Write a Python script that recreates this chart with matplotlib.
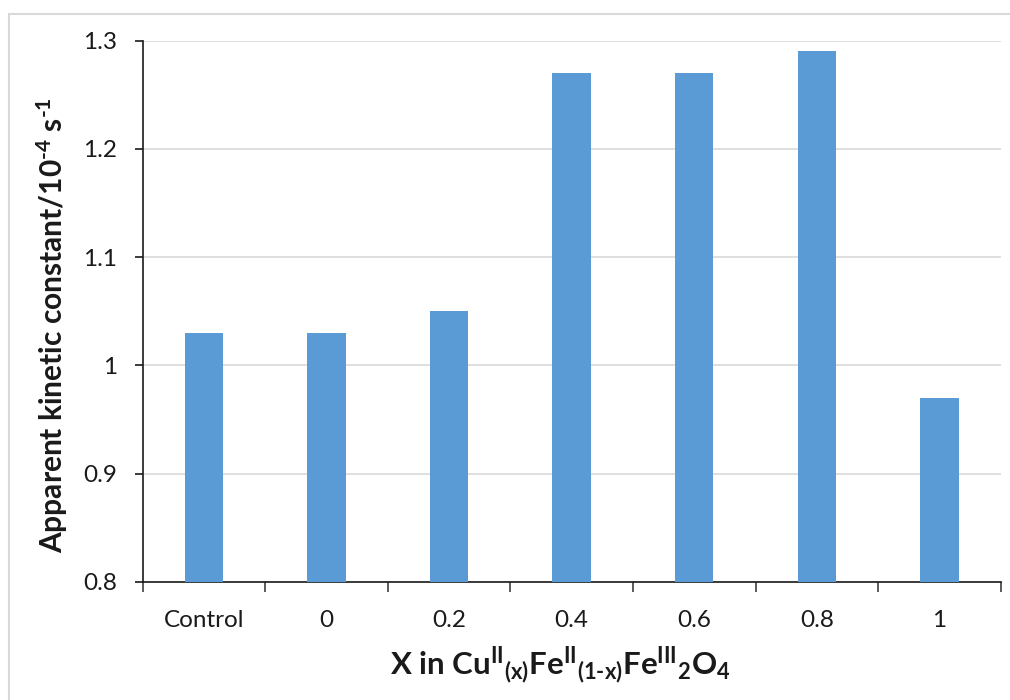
import numpy as np
import matplotlib
matplotlib.use('Agg')
import matplotlib.pyplot as plt
from matplotlib.patches import Rectangle

categories = ['Control', '0', '0.2', '0.4', '0.6', '0.8', '1']
rate_constants = [1.03, 1.03, 1.05, 1.27, 1.27, 1.29, 0.97]
y_ticks = [0.8, 0.9, 1.0, 1.1, 1.2, 1.3]
y_tick_labels = ['0.8', '0.9', '1', '1.1', '1.2', '1.3']

plt.rcParams['font.family'] = ['Lato', 'DejaVu Sans']
plt.rcParams['mathtext.fontset'] = 'custom'
plt.rcParams['mathtext.rm'] = 'Lato:bold'
plt.rcParams['mathtext.it'] = 'Lato:bold'
plt.rcParams['mathtext.bf'] = 'Lato:bold'
plt.rcParams['mathtext.default'] = 'rm'

fig = plt.figure(figsize=(10.1, 7), dpi=100)
ax = fig.add_axes([0.1411, 0.1686, 0.8497, 0.7735])

# outer chart frame
fig.patches.append(Rectangle((9 / 1010, -0.05), 1.05, 1.05 - 14 / 700,
                             transform=fig.transFigure, fill=False,
                             edgecolor='#d9d9d9', linewidth=1.5))

x = np.arange(len(categories))
ax.bar(x, rate_constants, width=0.313, color='#5b9bd5', zorder=3)

ax.set_xlim(-0.5, len(categories) - 0.5)
ax.set_ylim(0.8, 1.3)
ax.set_yticks(y_ticks)
ax.set_yticklabels(y_tick_labels)
ax.yaxis.grid(True, color='#d9d9d9', linewidth=1.2, zorder=0)

ax.set_xticks(x)
ax.set_xticklabels(categories)
ax.set_xticks(np.arange(len(categories) + 1) - 0.5, minor=True)
ax.tick_params(axis='x', which='major', length=0, pad=20, labelsize=17.5, colors='#1a1a1a')
ax.tick_params(axis='x', which='minor', length=7, width=1.2, color='#404040')
ax.tick_params(axis='y', length=6, width=1.2, pad=12, labelsize=17.5, colors='#1a1a1a')

for side in ['top', 'right']:
    ax.spines[side].set_visible(False)
ax.spines['left'].set_linewidth(1.2)
ax.spines['left'].set_color('#1a1a1a')
ax.spines['bottom'].set_linewidth(1.2)
ax.spines['bottom'].set_color('#1a1a1a')

ax.set_xlabel(r'X in Cu$^{II}$$_{(x)}$Fe$^{II}$$_{(1\text{-}x)}$Fe$^{III}$$_{2}$O$_{4}$',
              fontsize=22.5, fontweight='bold', color='#1a1a1a')
ax.xaxis.set_label_coords(0.487, -0.115)
ax.set_ylabel(r'Apparent kinetic constant/10$^{\text{-}4}$ s$^{\text{-}1}$',
              fontsize=21.5, fontweight='bold', color='#1a1a1a')
ax.yaxis.set_label_coords(-0.084, 0.475)

fig.savefig('out.png', dpi=100)
